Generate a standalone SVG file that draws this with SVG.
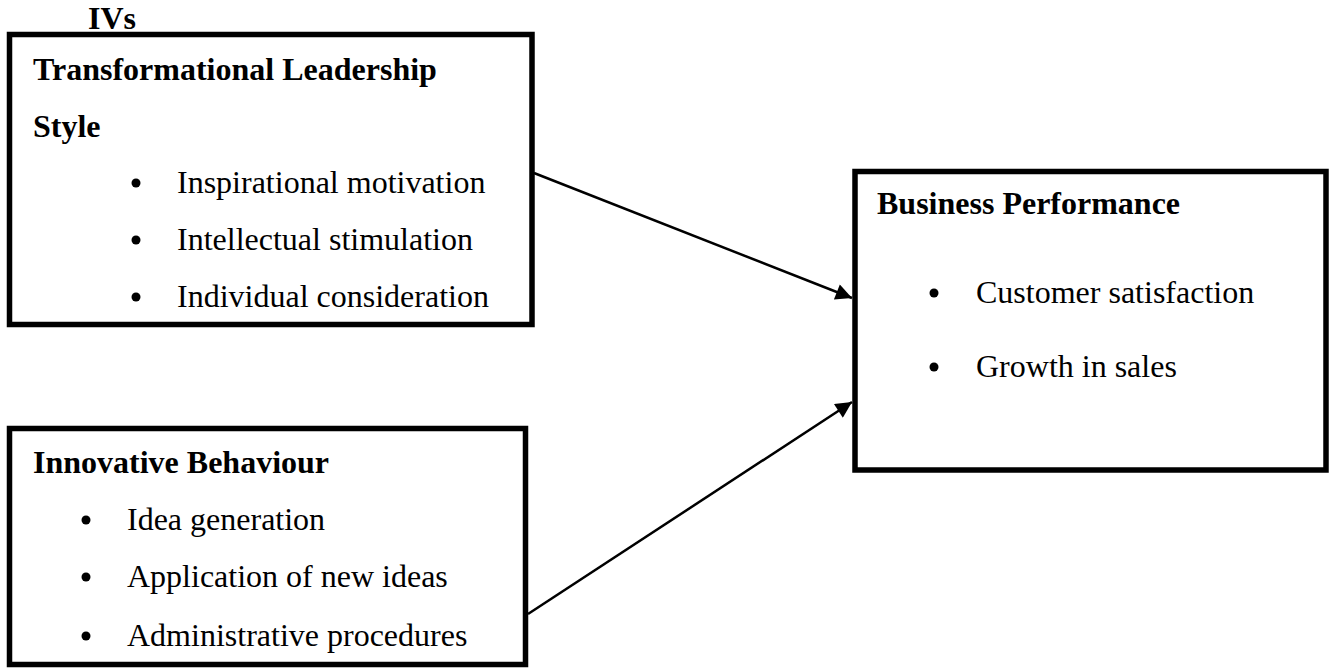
<svg xmlns="http://www.w3.org/2000/svg" width="1334" height="672" viewBox="0 0 1334 672">
<defs>
<style>
.box{fill:#fff;stroke:#000;stroke-width:5.5}
.h{font-family:"Liberation Serif","Times New Roman",serif;font-weight:bold;font-size:32px;fill:#000}
.t{font-family:"Liberation Serif","Times New Roman",serif;font-size:32px;fill:#000}
.dot{fill:#000}
.conn{stroke:#000;stroke-width:2.5;fill:none}
</style>
<marker id="arr" viewBox="0 0 10 10" refX="10" refY="5" markerWidth="8.5" markerHeight="6.5" markerUnits="strokeWidth" orient="auto">
<path d="M0,0 L10,5 L0,10 Z" fill="#000"/>
</marker>
</defs>
<rect width="1334" height="672" fill="#fff"/>
<text class="h" x="88" y="29">IVs</text>
<g id="tls">
<rect class="box" x="9.5" y="34.5" width="522.5" height="290"/>
<text class="h" x="33" y="80">Transformational Leadership</text>
<text class="h" x="33" y="137">Style</text>
<circle class="dot" cx="136" cy="183" r="4.5"/>
<text class="t" x="177" y="193">Inspirational motivation</text>
<circle class="dot" cx="136" cy="240" r="4.5"/>
<text class="t" x="177" y="250">Intellectual stimulation</text>
<circle class="dot" cx="136" cy="297" r="4.5"/>
<text class="t" x="177" y="307">Individual consideration</text>
</g>
<g id="ib">
<rect class="box" x="9.5" y="428.5" width="516" height="236"/>
<text class="h" x="33" y="473">Innovative Behaviour</text>
<circle class="dot" cx="86" cy="520" r="4.5"/>
<text class="t" x="127" y="530">Idea generation</text>
<circle class="dot" cx="86" cy="577" r="4.5"/>
<text class="t" x="127" y="587">Application of new ideas</text>
<circle class="dot" cx="86" cy="636" r="4.5"/>
<text class="t" x="127" y="646">Administrative procedures</text>
</g>
<g id="bp">
<rect class="box" x="855" y="171.5" width="471" height="298.5"/>
<text class="h" x="877" y="214">Business Performance</text>
<circle class="dot" cx="934" cy="293" r="4.5"/>
<text class="t" x="976" y="303">Customer satisfaction</text>
<circle class="dot" cx="934" cy="367" r="4.5"/>
<text class="t" x="976" y="377">Growth in sales</text>
</g>
<g id="connectors">
<line class="conn" x1="534" y1="173" x2="852" y2="298" marker-end="url(#arr)"/>
<line class="conn" x1="528" y1="614" x2="852" y2="402" marker-end="url(#arr)"/>
</g>
</svg>
